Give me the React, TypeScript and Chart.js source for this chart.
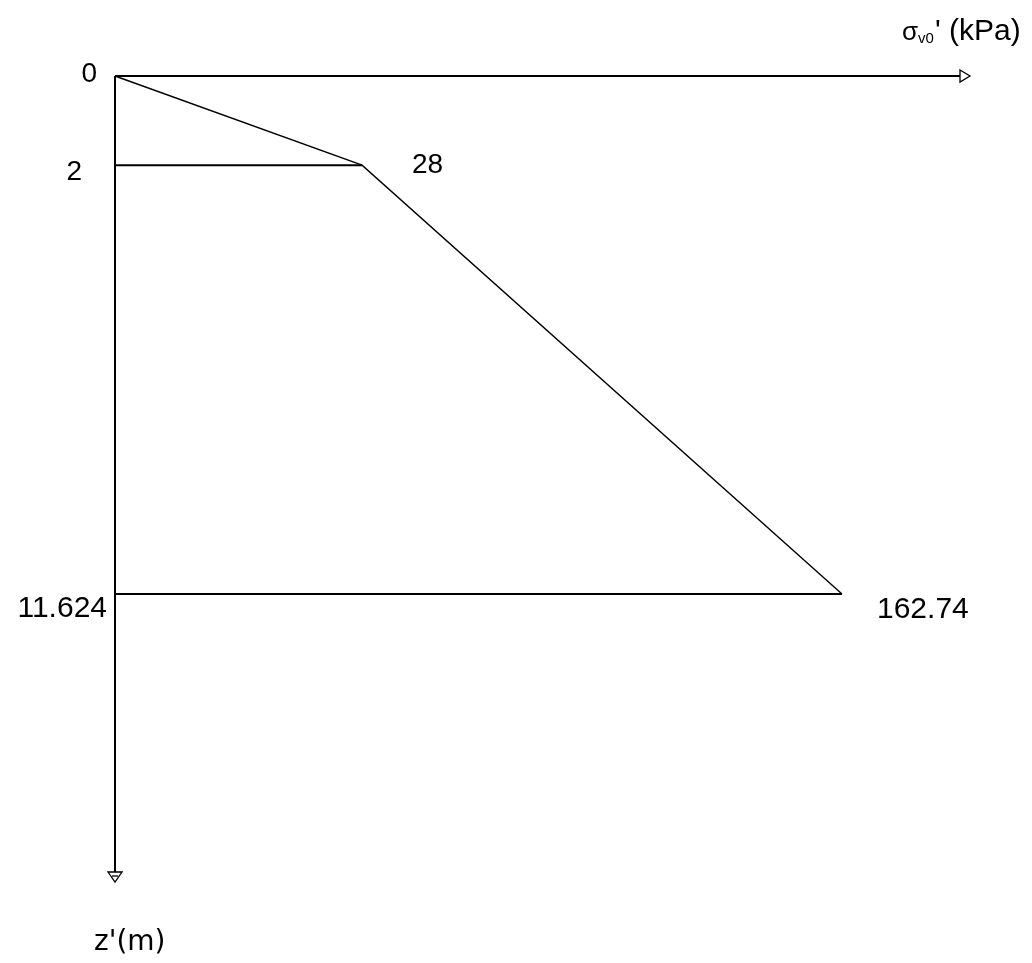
import React, { useEffect, useRef } from "react";
import { Chart, registerables, LinearScale } from "chart.js";

// ---- data ----
const depths = [0, 2, 11.624]; // z' (m)
const stresses = [0, 28, 162.74]; // sigma'v0 (kPa)
const depthTickLabels = ["0", "2", "11.624"];
const stressValueLabels = ["28", "162.74"];
const xAxisTitle = { main: "σ", sub: "v0", rest: "' (kPa)" };
const yAxisTitle = "z'(m)";

// schematic (non-proportional) stress axis, as drawn in the reference
class PowerScale extends LinearScale {
  static id = "power";
  static defaults = {};
  getPixelForValue(value: any) {
    if (value === null || value === undefined) return NaN;
    const p = (this.options as any).exponent ?? 1;
    const t = (value - this.min) / (this.max - this.min);
    const d = Math.sign(t) * Math.pow(Math.abs(t), p);
    return this.getPixelForDecimal(d);
  }
  getValueForPixel(pixel: number) {
    const p = (this.options as any).exponent ?? 1;
    const d = this.getDecimalForPixel(pixel);
    const t = Math.sign(d) * Math.pow(Math.abs(d), 1 / p);
    return this.min + t * (this.max - this.min);
  }
}

Chart.register(...registerables, PowerScale as any);

const FONT = "'Liberation Sans', Arial, sans-serif";

const annotationPlugin = {
  id: "schematicAnnotations",
  afterDatasetsDraw(chart: any) {
    const { ctx, chartArea, scales } = chart;
    const xs = scales.x;
    const ys = scales.y;
    const ox = xs.getPixelForValue(0);
    const oy = ys.getPixelForValue(0);
    ctx.save();
    ctx.strokeStyle = "#000";
    ctx.fillStyle = "#000";
    ctx.lineWidth = 2;

    // x axis with open arrow
    const xEnd = chartArea.right + 118;
    ctx.beginPath();
    ctx.moveTo(ox, oy);
    ctx.lineTo(xEnd, oy);
    ctx.stroke();
    ctx.lineWidth = 1.3;
    ctx.beginPath();
    ctx.moveTo(xEnd, oy - 6);
    ctx.lineTo(xEnd + 10, oy);
    ctx.lineTo(xEnd, oy + 6);
    ctx.closePath();
    ctx.fillStyle = "#fff";
    ctx.fill();
    ctx.stroke();

    // y axis with open arrow
    const yEnd = chartArea.bottom + 278;
    ctx.lineWidth = 2;
    ctx.beginPath();
    ctx.moveTo(ox, oy);
    ctx.lineTo(ox, yEnd);
    ctx.stroke();
    ctx.lineWidth = 1.3;
    ctx.beginPath();
    ctx.moveTo(ox - 7, yEnd);
    ctx.lineTo(ox, yEnd + 10);
    ctx.lineTo(ox + 7, yEnd);
    ctx.closePath();
    ctx.fill();
    ctx.stroke();
    ctx.beginPath();
    ctx.moveTo(ox - 3, yEnd + 4);
    ctx.lineTo(ox + 3, yEnd + 4);
    ctx.stroke();

    ctx.fillStyle = "#000";
    ctx.textBaseline = "alphabetic";

    // depth labels
    const tickOffsets = [
      { dx: -18, dy: 6, size: 28 },
      { dx: -33, dy: 15, size: 28 },
      { dx: -8, dy: 23, size: 30 },
    ];
    ctx.textAlign = "right";
    depths.forEach((d, i) => {
      const o = tickOffsets[i];
      ctx.font = `${o.size}px ${FONT}`;
      ctx.fillText(depthTickLabels[i], ox + o.dx, ys.getPixelForValue(d) + o.dy);
    });

    // stress value labels at break points
    const valOffsets = [
      { dx: 50, dy: 8, size: 28 },
      { dx: 35, dy: 24, size: 30 },
    ];
    ctx.textAlign = "left";
    stressValueLabels.forEach((lab, i) => {
      const o = valOffsets[i];
      ctx.font = `${o.size}px ${FONT}`;
      const px = xs.getPixelForValue(stresses[i + 1]);
      const py = ys.getPixelForValue(depths[i + 1]);
      ctx.fillText(lab, px + o.dx, py + o.dy);
    });

    // x axis title
    let tx = xEnd - 58;
    const tb = oy - 36;
    ctx.font = `26px ${FONT}`;
    ctx.fillText(xAxisTitle.main, tx, tb);
    tx += ctx.measureText(xAxisTitle.main).width;
    ctx.font = `15px ${FONT}`;
    ctx.fillText(xAxisTitle.sub, tx, tb + 3);
    tx += ctx.measureText(xAxisTitle.sub).width + 1;
    ctx.font = `30px ${FONT}`;
    ctx.fillText(xAxisTitle.rest, tx, tb);

    // y axis title
    ctx.font = `28px 'DejaVu Sans', sans-serif`;
    ctx.fillText(yAxisTitle, ox - 21, yEnd + 78);

    ctx.restore();
  },
};

export default function App() {
  const ref = useRef<HTMLCanvasElement | null>(null);
  useEffect(() => {
    document.body.style.margin = "0";
    document.body.style.background = "#fff";
    if (!ref.current) return;
    const profile = stresses.map((s, i) => ({ x: s, y: depths[i] }));
    const levelLines = [1, 2].map((i) => [
      { x: 0, y: depths[i] },
      { x: stresses[i], y: depths[i] },
    ]);
    const chart = new Chart(ref.current, {
      type: "line",
      data: {
        datasets: [
          {
            data: profile,
            borderColor: "#000",
            borderWidth: 1.4,
            pointRadius: 0,
            tension: 0,
            clip: false,
          } as any,
          ...levelLines.map(
            (pts) =>
              ({
                data: pts,
                borderColor: "#000",
                borderWidth: 2,
                pointRadius: 0,
                clip: false,
              } as any)
          ),
        ],
      },
      options: {
        animation: false,
        responsive: false,
        devicePixelRatio: 1,
        parsing: false as any,
        layout: { padding: { left: 115, top: 76, right: 190, bottom: 369 } },
        plugins: { legend: { display: false }, tooltip: { enabled: false } },
        scales: {
          x: {
            type: "power" as any,
            min: 0,
            max: stresses[stresses.length - 1],
            exponent: 0.6133,
            display: false,
          } as any,
          y: {
            type: "linear",
            min: 0,
            max: depths[depths.length - 1],
            reverse: true,
            display: false,
          },
        },
      },
      plugins: [annotationPlugin],
    });
    return () => chart.destroy();
  }, []);
  return (
    <div style={{ width: 1032, height: 963, background: "#fff" }}>
      <canvas ref={ref} width={1032} height={963} style={{ display: "block" }} />
    </div>
  );
}
